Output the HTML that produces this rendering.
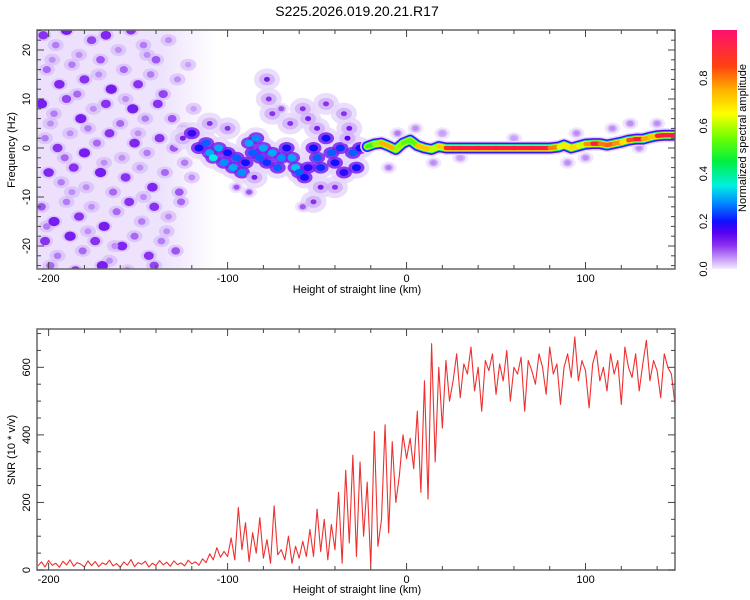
<!DOCTYPE html>
<html><head><meta charset="utf-8"><style>
html,body{margin:0;padding:0;background:#fff;}
svg{display:block;font-family:"Liberation Sans",sans-serif;}
</style></head><body>
<svg id="c" width="750" height="600" xmlns="http://www.w3.org/2000/svg">
<defs>
<linearGradient id="cbg" x1="0" y1="1" x2="0" y2="0">
<stop offset="0" stop-color="#f4ecff"/><stop offset="0.04" stop-color="#c8a0f8"/><stop offset="0.1" stop-color="#8a30f0"/><stop offset="0.15" stop-color="#5a00f0"/><stop offset="0.2" stop-color="#1010ff"/><stop offset="0.28" stop-color="#0090ff"/><stop offset="0.35" stop-color="#00f0e0"/><stop offset="0.45" stop-color="#00f040"/><stop offset="0.55" stop-color="#70ff00"/><stop offset="0.65" stop-color="#ffff00"/><stop offset="0.75" stop-color="#ffb000"/><stop offset="0.85" stop-color="#ff4010"/><stop offset="1" stop-color="#ff1070"/>
</linearGradient>
<linearGradient id="bgfade" x1="0" y1="0" x2="1" y2="0">
<stop offset="0" stop-color="#eadcfc" stop-opacity="0.9"/><stop offset="0.7" stop-color="#eadcfc" stop-opacity="0.8"/><stop offset="1" stop-color="#eadcfc" stop-opacity="0"/>
</linearGradient>
<clipPath id="clipT"><rect x="37" y="30" width="638" height="239"/></clipPath>
<clipPath id="clipB"><rect x="37" y="329" width="638" height="241"/></clipPath>
</defs>
<text x="357" y="16" text-anchor="middle" font-size="14" fill="#000">S225.2026.019.20.21.R17</text>
<g id="top" clip-path="url(#clipT)">
<rect x="37" y="30" width="180" height="239" fill="url(#bgfade)"/>
</g>
<g id="bot" clip-path="url(#clipB)"></g>
<g id="axes"></g>
<rect x="712" y="30" width="25" height="239" fill="url(#cbg)"/>
<text transform="translate(746,138) rotate(-90)" text-anchor="middle" font-size="11">Normalized spectral amplitude</text>
</svg>
<script>
// ---- SNR data (every 2 km from -206) ----
const snrStartKm = -206;
const snrStepKm = 2;
const snrValues = [
12,24,9,28,14,20,8,26,15,30,11,22,17,9,27,13,25,10,21,16,29,12,19,8,24,14,31,10,22,17,26,9,20,13,28,15,23,11,27,16,21,12,29,18,24,14,33,
22,48,30,66,38,55,
40,95,30,185,60,140,25,110,50,155,35,90,20,190,45,
60,30,100,20,70,35,85,40,
120,40,180,55,150,30,135,
60,230,20,295,80,340,40,320,100,260,10,410,70,
150,430,110,380,200,
280,400,330,390,300,
470,230,560,210,
670,320,600,420,620,500,
560,640,510,610,580,660,530,600,470,620,590,640,520,610,560,650,500,600,580,630,470,620,590,550,640,600,520,660,580,610,490,600,640,570,690,560,620,590,480,610,650,560,600,530,640,580,620,490,660,600,570,640,530,610,680,560,620,590,510,640,600,580,490];
// ---- spectrogram ridge ----
const ridgeKm = [-22,-18,-14,-10,-6,-2,2,6,10,14,18,22,26,30,40,50,60,70,80,85,88,92,96,100,104,108,112,116,120,124,128,132,136,140,144,150];
const ridgeHz = [0.3,0.8,1.0,0.4,-0.3,1.0,1.6,0.5,0,-0.3,0.3,0,0,0,0,0,0,0,0,0.2,0.6,0,0.4,0.8,0.9,0.9,0.6,0.9,1.2,1.6,1.8,1.8,2.2,2.5,2.6,2.6];
const ridgeAmp = [0.45,0.55,0.6,0.9,0.6,0.55,0.5,0.55,0.9,0.55,0.65,0.78,0.85,0.88,0.88,0.88,0.88,0.88,0.85,0.7,0.55,0.8,0.6,0.65,0.88,0.86,0.7,0.88,0.65,0.72,0.88,0.86,0.65,0.8,0.88,0.88];
// ---- scattered noise ----
const noiseKm = [-203,-196,-190,-183,-176,-168,-161,-154,-147,-140,-133,
-201,-194,-187,-180,-172,-165,-158,-150,-143,-136,-128,-122,
-204,-197,-190,-182,-175,-168,-160,-153,-146,-139,-131,-124,-119,
-202,-195,-188,-180,-173,-166,-159,-152,-145,-138,-130,-124,
-200,-193,-186,-179,-171,-164,-157,-149,-142,-135,-127,-120,
-204,-197,-190,-183,-176,-169,-162,-155,-148,-141,-133,-126,
-202,-195,-188,-181,-174,-166,-159,-152,-144,-137,-129,
-199,-185,-170,-156,-141,
-198,-171,-145,-184,-157,-199,-178,-150,-191,-169,-147,-187,-201,-178,-134,-163];
const noiseHz = [23,21,24,19,22,23,20,24,21,18,22,
16,13,17,14,15,12,16,13,15,11,14,17,
9,7,10,6,8,9,5,8,6,9,6,4,8,
2,0,3,-1,1,3,-2,1,-1,2,0,-3,
-5,-7,-4,-8,-5,-9,-6,-4,-8,-5,-9,-6,
-12,-15,-11,-14,-12,-16,-13,-11,-15,-12,-14,-11,
-19,-22,-18,-21,-19,-23,-20,-18,-22,-19,-21,
-24,-25,-24,-25,-24,
18,18,19,11,10,5,4,3,-2,-3,-10,-9,-16,-17,-17,-20];
const noiseAmp = [0.1,0.06,0.12,0.05,0.09,0.11,0.05,0.1,0.06,0.08,0.05,
0.07,0.11,0.06,0.1,0.05,0.12,0.07,0.1,0.06,0.09,0.05,0.04,
0.12,0.06,0.09,0.12,0.05,0.1,0.07,0.12,0.06,0.1,0.08,0.07,0.04,
0.06,0.1,0.05,0.12,0.07,0.1,0.05,0.11,0.06,0.1,0.08,0.06,
0.11,0.06,0.1,0.05,0.12,0.07,0.1,0.05,0.11,0.07,0.08,0.05,
0.08,0.12,0.06,0.1,0.05,0.12,0.07,0.1,0.06,0.1,0.05,0.07,
0.1,0.06,0.12,0.07,0.1,0.05,0.11,0.07,0.1,0.06,0.08,
0.07,0.1,0.12,0.06,0.09,
0.05,0.08,0.05,0.07,0.05,0.05,0.06,0.05,0.07,0.05,0.05,0.05,0.06,0.05,0.05,0.05];
// ---- transition cluster ----
const clusterKm = [-125,-120,-116,-112,-110,-108,-105,-102,-100,-97,-95,-92,-90,-88,-86,-84,-82,-80,-78,-75,-72,-70,-67,-64,-62,-60,-57,-55,-52,-50,-48,-45,-42,-40,-37,-35,-33,-30,-28,-26,
-78,-77,-75,-58,-55,-50,-45,-35,-32,-48,-52,-58,-40,-85,-95,-110,-100,-65,-70,-88,
5,15,30,60,90,95,115,125,140,-10,-5,20,100,130];
const clusterHz = [2,3,0,1,-1,-2,0,-3,-1,-4,-2,-5,-3,1,-1,2,-2,0,-3,-1,-4,-2,0,-2,-4,-5,-6,-4,0,-2,-4,2,-1,-3,0,-5,2,-1,-4,0,
14,10,7,8,6,4,9,7,4,-8,-11,-12,-8,-6,-8,5,4,5,8,-9,
4,-3,-2,2,-3,3,4,5,5,-4,3,3,-2,0];
const clusterAmp = [0.12,0.18,0.2,0.25,0.3,0.35,0.3,0.28,0.2,0.3,0.25,0.28,0.2,0.3,0.25,0.28,0.25,0.3,0.22,0.3,0.25,0.28,0.2,0.3,0.32,0.25,0.2,0.18,0.2,0.25,0.22,0.2,0.25,0.2,0.22,0.18,0.15,0.25,0.2,0.2,
0.12,0.1,0.1,0.1,0.12,0.12,0.1,0.1,0.12,0.12,0.1,0.08,0.1,0.12,0.08,0.1,0.1,0.1,0.08,0.08,
0.05,0.05,0.04,0.04,0.05,0.05,0.05,0.05,0.05,0.06,0.06,0.04,0.05,0.05];

const NS='http://www.w3.org/2000/svg';
const X0=37,X1=675,KM0=-206.5,KM1=150;
function xs(km){return X0+(km-KM0)/(KM1-KM0)*(X1-X0);}
function yHz(f){return 148-f*4.9;}
function ySnr(v){return 570-v*0.3378;}
const stops=[[0,[244,236,255]],[0.04,[200,160,248]],[0.1,[138,48,240]],[0.15,[90,0,240]],[0.2,[16,16,255]],[0.28,[0,144,255]],[0.35,[0,240,224]],[0.45,[0,240,64]],[0.55,[112,255,0]],[0.65,[255,255,0]],[0.75,[255,176,0]],[0.82,[255,32,48]],[1,[255,16,112]]];
function cmap(a){for(let i=1;i<stops.length;i++){if(a<=stops[i][0]){const s=stops[i-1],e=stops[i],t=(a-s[0])/(e[0]-s[0]);const c=s[1].map((v,k)=>Math.round(v+(e[1][k]-v)*t));return 'rgb('+c.join(',')+')';}}return 'rgb(255,16,112)';}
function mk(tag,attrs,parent){const el=document.createElementNS(NS,tag);for(const k in attrs)el.setAttribute(k,attrs[k]);parent.appendChild(el);return el;}

const topG=document.getElementById('top');
const halos=mk('g',{},topG);const cores=mk('g',{},topG);
noiseKm.forEach((km,i)=>{
  const a=noiseAmp[i];
  const h=mk('ellipse',{cx:xs(km),cy:yHz(noiseHz[i]),rx:8,ry:6,fill:'#d6bcf8',opacity:0.7},halos);
  
  
  const c=mk('ellipse',{cx:xs(km),cy:yHz(noiseHz[i]),rx:2+a*30,ry:2+a*22,fill:cmap(a)},cores);
  
  
});
const cl=mk('g',{},topG);const ch=mk('g',{},topG);const cc=mk('g',{},topG);
clusterKm.forEach((km,i)=>{
  const a=clusterAmp[i];
  const strong=a>0.09;
  const l=mk('ellipse',{cx:xs(km),cy:yHz(clusterHz[i]),rx:strong?13:8,ry:strong?11:6,fill:'#e6d6fb',opacity:strong?0.8:0.6},cl);
  
  
  const h=mk('ellipse',{cx:xs(km),cy:yHz(clusterHz[i]),rx:strong?8:5,ry:strong?6:4,fill:a>0.15?'#7a20f0':'#d0b0f8',opacity:0.85},ch);
  
  
  const c=mk('ellipse',{cx:xs(km),cy:yHz(clusterHz[i]),rx:a>0.15?4.5:3,ry:a>0.15?3.5:2.5,fill:cmap(a)},cc);
  
  
});
const pts=ridgeKm.map((km,i)=>xs(km)+','+yHz(ridgeHz[i])).join(' ');
[[14,'#e6d6fb'],[11,'#6a10f0'],[9.5,'#1818ff'],[8,'#00c8ff'],[7,'#20f040'],[6,'#f0ff00']].forEach(([w,col])=>{
  const p=mk('polyline',{points:pts,fill:'none',stroke:col,'stroke-width':w,'stroke-linejoin':'round','stroke-linecap':'round'},topG);
  
  
});
for(let i=0;i<ridgeKm.length-1;i++){
  const a=(ridgeAmp[i]+ridgeAmp[i+1])/2;
  const s=mk('line',{x1:xs(ridgeKm[i]),y1:yHz(ridgeHz[i]),x2:xs(ridgeKm[i+1]),y2:yHz(ridgeHz[i+1]),stroke:cmap(a),'stroke-width':4.5,'stroke-linecap':'round'},topG);
  
  
}
const botG=document.getElementById('bot');
const sp=snrValues.map((v,i)=>xs(snrStartKm+i*snrStepKm)+','+ySnr(v)).join(' ');
const snrLine=mk('polyline',{points:sp,fill:'none',stroke:'#ee3030','stroke-width':1.1,'stroke-linejoin':'round'},botG);



const ax=document.getElementById('axes');
function frame(y0,y1,name){const r=mk('rect',{x:X0,y:y0,width:X1-X0,height:y1-y0,fill:'none',stroke:'#666','stroke-width':1.5},ax);}
frame(30,269,'spectrogram-frame');frame(329,570,'snr-frame');
const xTickVals=[-200,-100,0,100];
function xAxis(y0,y1,labY,titleY,prefix){
  for(let km=-200;km<=150;km+=20){const x=xs(km);const big=km%100===0;const L=big?7:4;
    mk('line',{x1:x,y1:y1,x2:x,y2:y1-L,stroke:'#444','stroke-width':1},ax);
    mk('line',{x1:x,y1:y0,x2:x,y2:y0+L,stroke:'#444','stroke-width':1},ax);}
  xTickVals.forEach(v=>{const t=mk('text',{x:xs(v),y:labY,'text-anchor':'middle','font-size':11},ax);t.textContent=v;});
  const t=mk('text',{x:357,y:titleY,'text-anchor':'middle','font-size':11},ax);t.textContent='Height of straight line (km)';
}
xAxis(30,269,282,293,'spectrogram');xAxis(329,570,583,593,'snr');
const hzTicks=[20,10,0,-10,-20];
for(let f=-24;f<=24;f+=2){const y=yHz(f);const L=f%10===0?7:4;mk('line',{x1:X0,y1:y,x2:X0+L,y2:y,stroke:'#444'},ax);mk('line',{x1:X1,y1:y,x2:X1-L,y2:y,stroke:'#444'},ax);}
hzTicks.forEach(v=>{const t=mk('text',{transform:'translate(30,'+yHz(v)+') rotate(-90)','text-anchor':'middle','font-size':11},ax);t.textContent=v;});
let tt=mk('text',{transform:'translate(15,150) rotate(-90)','text-anchor':'middle','font-size':11},ax);tt.textContent='Frequency (Hz)';
const snrTicks=[0,200,400,600];
for(let v=0;v<=700;v+=50){const y=ySnr(v);const L=v%200===0?7:4;mk('line',{x1:X0,y1:y,x2:X0+L,y2:y,stroke:'#444'},ax);mk('line',{x1:X1,y1:y,x2:X1-L,y2:y,stroke:'#444'},ax);}
snrTicks.forEach(v=>{const t=mk('text',{transform:'translate(30,'+ySnr(v)+') rotate(-90)','text-anchor':'middle','font-size':11},ax);t.textContent=v;});
tt=mk('text',{transform:'translate(15,450) rotate(-90)','text-anchor':'middle','font-size':11},ax);tt.textContent='SNR (10 * v/v)';
const cbTicks=[0,0.2,0.4,0.6,0.8];
cbTicks.forEach(v=>{const y=269-v*238.5;const t=mk('text',{transform:'translate(707,'+y+') rotate(-90)','text-anchor':'middle','font-size':11},ax);t.textContent=v.toFixed(1);});
</script>
</body></html>
